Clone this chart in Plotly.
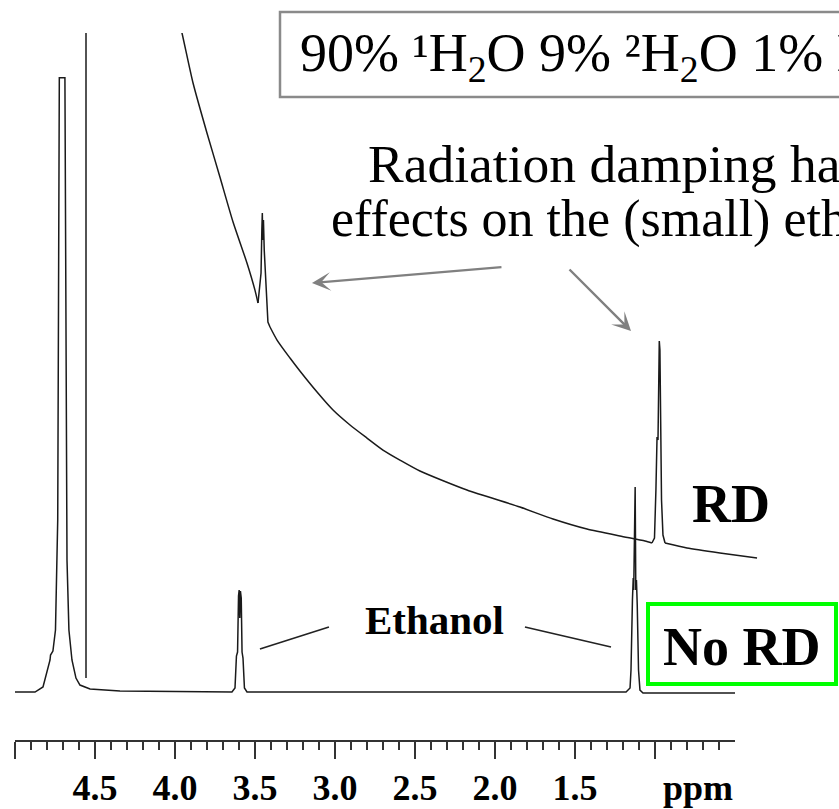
import plotly.graph_objects as go

# ---------------- spectrum data ----------------
# Reference spectrum without radiation damping (chemical shift in ppm, intensity a.u.)
nord_ppm = [5.000, 4.875, 4.825, 4.781, 4.778, 4.763, 4.747, 4.738, 4.733, 4.728, 4.723,
            4.688, 4.684, 4.675, 4.663, 4.644, 4.619, 4.594, 4.531, 4.344,
            3.644, 3.625, 3.616, 3.609, 3.603, 3.599, 3.595, 3.591, 3.586, 3.581, 3.575, 3.566, 3.550,
            1.181, 1.156, 1.150, 1.141, 1.136, 1.133, 1.128, 1.124, 1.120, 1.116, 1.111, 1.103,
            1.094, 1.075, 0.500]
nord_int = [0.0, 0.0, 0.76, 4.86, 5.61, 6.22, 9.41, 20.0, 26.1, 59.5, 93.2,
            93.2, 59.5, 20.0, 9.41, 4.86, 2.12, 1.06, 0.46, 0.15,
            0.0, 0.61, 5.46, 6.07, 14.57, 15.48, 11.23, 15.33, 14.26, 6.07, 5.16, 0.61, 0.0,
            0.0, 0.61, 3.34, 13.96, 17.30, 15.48, 30.96, 31.11, 15.48, 17.0, 13.2, 3.34,
            0.30, -0.15, -0.15]

# Spectrum with radiation damping: saturated water line, then the distorted baseline
rd_water_ppm = [4.700, 4.700]
rd_water_int = [110.0, 2.12]
rd_ppm = [4.150, 4.100, 4.031, 3.944, 3.863, 3.781, 3.694, 3.644, 3.625,        # 0-8
          3.613, 3.606, 3.601, 3.598, 3.595, 3.591, 3.586, 3.578, 3.572,        # 9-17
          3.569, 3.563, 3.550, 3.506,                                           # 18-21
          3.425, 3.363, 3.256, 3.156, 3.050, 2.944, 2.844, 2.738, 2.613,        # 22-30
          2.319, 1.988, 1.781, 1.569, 1.363, 1.206, 1.163,                      # 31-37
          1.147, 1.138, 1.131, 1.125, 1.117, 1.113, 1.108, 1.103, 1.094, 1.081,  # 38-47
          0.944, 0.738, 0.506]                                                  # 48-50
rd_int = [105.0, 100.0, 92.41, 84.83, 78.15, 71.32, 65.10, 60.98, 59.03,
          61.76, 63.58, 70.11, 72.69, 68.59, 71.62, 67.07, 62.52, 60.70,
          59.48, 56.15, 55.39, 53.41,
          50.68, 48.71, 45.52, 42.79, 40.52, 38.54, 36.72, 35.20, 33.54,
          30.65, 28.07, 26.25, 24.73, 23.67, 22.91, 22.61,
          23.37, 30.65, 38.69, 38.24, 53.26, 51.90, 39.0, 29.13, 23.82, 22.61,
          21.85, 21.09, 20.33]

# index ranges of the RD line: smooth background pieces and the sharp multiplets
rd_pieces = [(0, 9, "spline"), (8, 21, "linear"), (20, 38, "spline"),
             (37, 48, "linear"), (47, 51, "spline")]

# Axis ticks
tick_vals = [5.0, 4.5, 4.0, 3.5, 3.0, 2.5, 2.0, 1.5, 1.0]
tick_text = ["", "4.5", "4.0", "3.5", "3.0", "2.5", "2.0", "1.5", ""]
minor_vals = [round(5.0 - 0.1 * i, 1) for i in range(1, 45) if i % 5 != 0]

# ---------------- layout geometry ----------------
W, H = 839, 809
ML, MR, MT, MB = 15, 69, 33, 69
PW = W - ML - MR          # plot width in px
PH = H - MT - MB          # plot height in px


def px(xp):
    return (xp - ML) / PW


def py(yp):
    return (H - MB - yp) / PH


SERIF = "Liberation Serif"
LINE = "#1a1a1a"
GREY = "#808080"
LW = 1.5

fig = go.Figure()

# stacked RD spectrum drawn on a horizontally offset axis
fig.add_trace(go.Scatter(
    x=rd_water_ppm, y=rd_water_int, xaxis="x2", yaxis="y", mode="lines",
    line=dict(color=LINE, width=LW), hoverinfo="skip"))
for i0, i1, shape in rd_pieces:
    fig.add_trace(go.Scatter(
        x=rd_ppm[i0:i1], y=rd_int[i0:i1], xaxis="x2", yaxis="y", mode="lines",
        line=dict(color=LINE, width=LW, shape=shape, smoothing=0.6), hoverinfo="skip"))

fig.add_trace(go.Scatter(
    x=nord_ppm, y=nord_int, xaxis="x", yaxis="y", mode="lines",
    line=dict(color=LINE, width=LW), hoverinfo="skip"))

# label lines pointing at the ethanol multiplets
fig.add_shape(type="line", xref="x", yref="y", x0=3.469, y0=6.52, x1=3.038, y1=9.86,
              line=dict(color="#222222", width=1.6))
fig.add_shape(type="line", xref="x", yref="y", x0=1.813, y0=9.86, x1=1.275, y1=6.83,
              line=dict(color="#222222", width=1.6))

# sample composition box (runs off the right edge)
fig.add_shape(type="rect", xref="paper", yref="paper",
              x0=px(280), x1=px(900), y0=py(97), y1=py(12),
              line=dict(color="#8a8a8a", width=2.5), fillcolor="rgba(0,0,0,0)")

# green frame around the "No RD" label
fig.add_shape(type="rect", xref="paper", yref="paper",
              x0=px(648), x1=px(836), y0=py(684), y1=py(604),
              line=dict(color="#00ff00", width=4), fillcolor="rgba(0,0,0,0)")

annotations = [
    dict(text="90% ¹H<sub>2</sub>O 9% ²H<sub>2</sub>O 1% EtOH",
         xref="paper", yref="paper", x=px(298), y=py(57), xanchor="left", yanchor="middle",
         showarrow=False, font=dict(family=SERIF, size=54, color="black")),
    dict(text="Radiation damping has large",
         xref="paper", yref="paper", x=px(366), y=py(164), xanchor="left", yanchor="middle",
         showarrow=False, font=dict(family=SERIF, size=53.5, color="black")),
    dict(text="effects on the (small) ethanol signals",
         xref="paper", yref="paper", x=px(329), y=py(219), xanchor="left", yanchor="middle",
         showarrow=False, font=dict(family=SERIF, size=52, color="black")),
    dict(text="Ethanol", xref="paper", yref="paper", x=px(434), y=py(620),
         xanchor="center", yanchor="middle", showarrow=False,
         font=dict(family=SERIF, size=41, color="black", weight="bold")),
    dict(text="RD", xref="paper", yref="paper", x=px(730.5), y=py(504),
         xanchor="center", yanchor="middle", showarrow=False,
         font=dict(family=SERIF, size=54, color="black", weight="bold")),
    dict(text="No RD", xref="paper", yref="paper", x=px(741.5), y=py(647),
         xanchor="center", yanchor="middle", showarrow=False,
         font=dict(family=SERIF, size=54, color="black", weight="bold")),
    dict(text="ppm", xref="x", yref="paper", x=0.731, y=py(788),
         xanchor="center", yanchor="middle", showarrow=False,
         font=dict(family=SERIF, size=36, color="black", weight="bold")),
    # arrows towards the two distorted ethanol multiplets
    dict(text="", xref="x", yref="y", x=3.144, y=62.06, ax=191, ay=-16,
         showarrow=True, arrowhead=3, arrowsize=1.3, arrowwidth=2.4, arrowcolor=GREY),
    dict(text="", xref="x", yref="y", x=1.150, y=54.78, ax=-63, ay=-63,
         showarrow=True, arrowhead=3, arrowsize=1.3, arrowwidth=2.4, arrowcolor=GREY),
]

fig.update_layout(
    width=W, height=H,
    margin=dict(l=ML, r=MR, t=MT, b=MB, pad=0, autoexpand=False),
    paper_bgcolor="white", plot_bgcolor="rgba(0,0,0,0)",
    showlegend=False,
    annotations=annotations,
    xaxis=dict(
        domain=[0, px(735)], range=[5.0, 0.5], anchor="y", automargin=False,
        tickmode="array", tickvals=tick_vals, ticktext=tick_text,
        ticks="outside", ticklen=17, tickwidth=1.5, tickcolor="#333333",
        showline=True, linecolor="#333333", linewidth=2,
        showgrid=False, zeroline=False, ticklabelstandoff=-2,
        tickfont=dict(family=SERIF, size=36, color="black", weight="bold"),
        minor=dict(tickvals=minor_vals, ticks="outside", ticklen=8, tickwidth=1.5,
                   tickcolor="#333333", showgrid=False),
    ),
    xaxis2=dict(domain=[px(38), 1], range=[5.0, 0.425], anchor="y", visible=False),
    yaxis=dict(domain=[0, 1], range=[-7.28, 100], visible=False),
)

fig.write_html("out.html")
